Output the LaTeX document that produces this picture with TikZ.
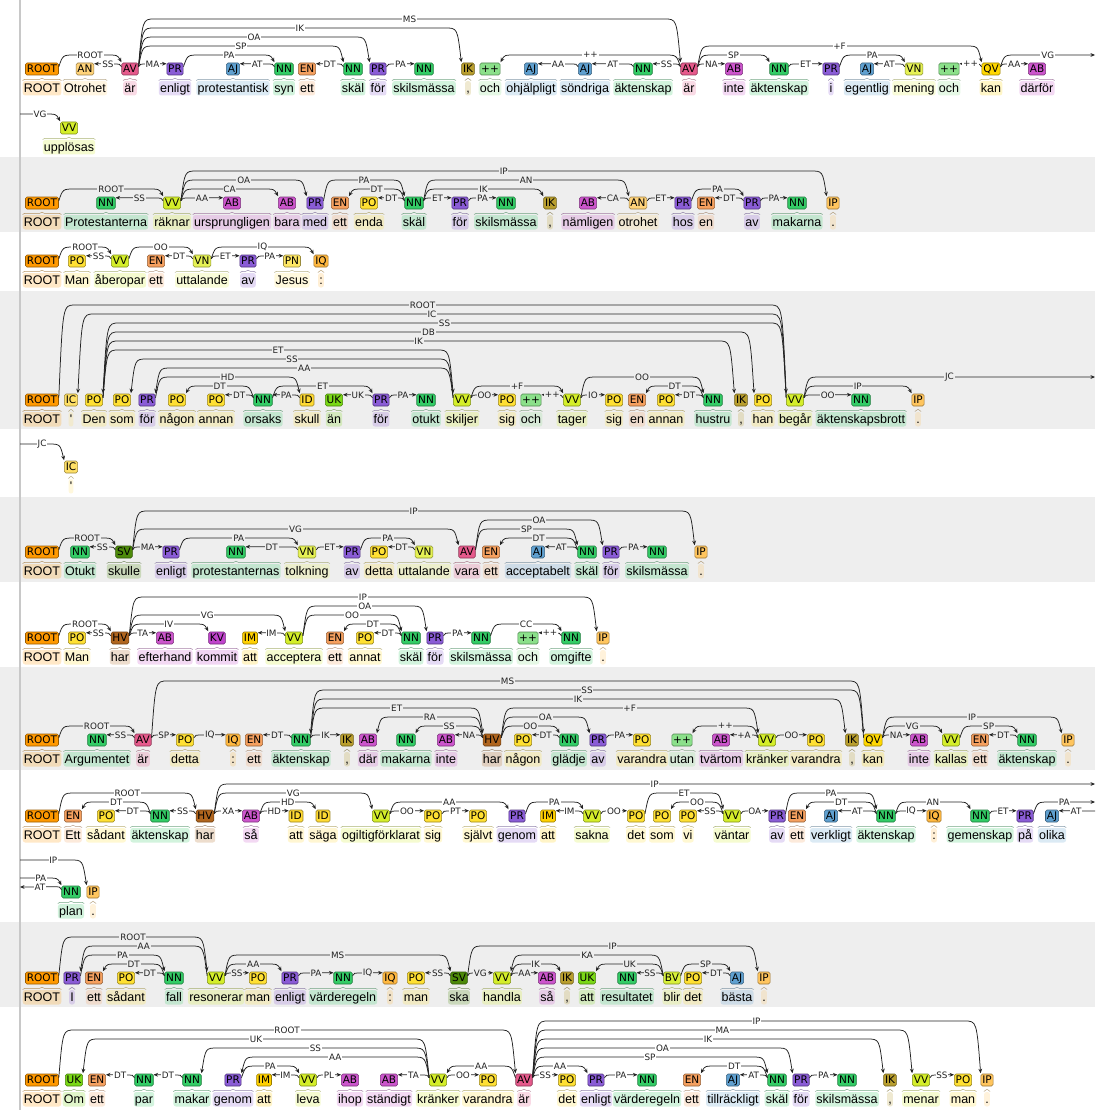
\documentclass[tikz,border=0pt]{standalone}
\usepackage{fontspec}
\setmainfont{Liberation Sans}
\newfontfamily\tagfont{DejaVu Sans}
\newfontfamily\wordfont{Liberation Sans}
\usetikzlibrary{arrows.meta,decorations.pathreplacing,calc}
\definecolor{bandgray}{HTML}{EEEEEE}
\definecolor{marginc}{HTML}{C8C8C8}
\definecolor{arcc}{HTML}{222222}
\definecolor{labc}{HTML}{222222}
\definecolor{cROOT}{HTML}{FF9900}
\definecolor{cAN}{HTML}{FFD37A}
\definecolor{cAV}{HTML}{E65A8C}
\definecolor{cPR}{HTML}{8A5CD6}
\definecolor{cAJ}{HTML}{5FA0D0}
\definecolor{cNN}{HTML}{33CC66}
\definecolor{cEN}{HTML}{F5A05F}
\definecolor{cIK}{HTML}{B89E2E}
\definecolor{cPP}{HTML}{8BE08A}
\definecolor{cVN}{HTML}{E6F255}
\definecolor{cQV}{HTML}{FFD700}
\definecolor{cAB}{HTML}{CC55CC}
\definecolor{cVV}{HTML}{D4EE2A}
\definecolor{cPO}{HTML}{FFE033}
\definecolor{cIP}{HTML}{FFC55E}
\definecolor{cPN}{HTML}{FFE866}
\definecolor{cIQ}{HTML}{FFB840}
\definecolor{cIC}{HTML}{FFE066}
\definecolor{cID}{HTML}{FFDA33}
\definecolor{cUK}{HTML}{7AD816}
\definecolor{cSV}{HTML}{4D8A0A}
\definecolor{cHV}{HTML}{B0651E}
\definecolor{cKV}{HTML}{C044CC}
\definecolor{cIM}{HTML}{FFD000}
\definecolor{cBV}{HTML}{D8F03A}
\def\labbg{white}
\tikzset{
  tagbox/.style={rectangle,rounded corners=1.6pt,line width=0.55pt,inner xsep=1.4pt,inner ysep=0pt,
    minimum height=12pt,text height=7.7pt,text depth=0pt,font=\tagfont\fontsize{10.5}{12}\selectfont},
  wordbox/.style={rectangle,rounded corners=2.5pt,inner xsep=1.2pt,inner ysep=1pt,text height=10.5pt,
    text depth=2pt,anchor=base,fill opacity=0.22,text opacity=1,font=\wordfont\fontsize{12.5}{14}\selectfont},
  wbrace/.style={decorate,decoration={brace,amplitude=2.3pt,raise=0.3pt},line width=0.5pt,draw opacity=0.6},
  deparc/.style={draw=arcc,line width=0.75pt,-{Stealth[length=4.5pt,width=3.8pt]}},
  deplab/.style={fill=\labbg,inner xsep=0.8pt,inner ysep=0.2pt,text=labc,font=\tagfont\fontsize{8.8}{9}\selectfont},
}
\newcommand\tok[6]{%
  \node[wordbox,fill=#5] (#1w) at (#2,-#3-29.5) {#6};%
  \draw[wbrace,draw=#5!55!black] (#1w.north west) -- (#1w.north east);%
  \node[tagbox,fill=#5,draw=#5!60!black] (#1) at (#2,-#3-6) {#4};%
}
\newcommand\dep[5]{%
  \pgfpointanchor{#1}{center}\pgfgetlastxy{\depsx}{\depsy}%
  \pgfpointanchor{#2}{center}\pgfgetlastxy{\deptx}{\depty}%
  \ifdim\depsx<\deptx\relax
    \pgfpointanchor{#1}{north east}\pgfgetlastxy{\depax}{\depay}%
    \pgfpointanchor{#2}{north west}\pgfgetlastxy{\depbx}{\depby}%
    \def\depsg{1}\def\depsa{east}\def\depta{west}%
  \else
    \pgfpointanchor{#1}{north west}\pgfgetlastxy{\depax}{\depay}%
    \pgfpointanchor{#2}{north east}\pgfgetlastxy{\depbx}{\depby}%
    \def\depsg{-1}\def\depsa{west}\def\depta{east}%
  \fi
  \pgfmathsetmacro\dA{\depax}%
  \pgfmathsetmacro\dB{\depbx}%
  \pgfmathsetmacro\dY{-(#3+1-9*#4)}%
  \pgfmathsetmacro\dM{(\dA+\dB)/2}%
  \pgfmathsetmacro\dAi{\dA+\depsg*4}%
  \pgfmathsetmacro\dAo{\dA+\depsg*16}%
  \pgfmathsetmacro\dBi{\dB-\depsg*4}%
  \pgfmathsetmacro\dBo{\dB-\depsg*16}%
  \pgfmathsetmacro\dAz{\dA+\depsg*2}%
  \pgfmathsetmacro\dAy{\dA+\depsg*5}%
  \ifnum#4=0
    \draw[deparc] ([yshift=-4pt]#1.north \depsa) .. controls (\dAz,\dY) .. (\dAy,\dY) -- ([yshift=-1pt]#2.north \depta);
  \else
    \draw[deparc] ([yshift=-4pt]#1.north \depsa) .. controls (\dAi,\dY) .. (\dAo,\dY) -- (\dBo,\dY) .. controls (\dBi,\dY) .. ([yshift=0.5pt]#2.north \depta);
  \fi
  \node[deplab] at (\dM,\dY) {#5};%
}
\newcommand\depout[5]{%
  \pgfpointanchor{#1}{north east}\pgfgetlastxy{\depax}{\depay}%
  \pgfmathsetmacro\dA{\depax}%
  \pgfmathsetmacro\dY{-(#3+1-9*#4)}%
  \pgfmathsetmacro\dM{(\dA+1095)/2}%
  \pgfmathsetmacro\dAi{\dA+4}\pgfmathsetmacro\dAo{\dA+16}%
  \coordinate (#2) at (1095,\dY);
  \draw[deparc] ([yshift=-4pt]#1.north east) .. controls (\dAi,\dY) .. (\dAo,\dY) -- (#2);
  \node[deplab] at (\dM,\dY) {#5};%
}
\newcommand\depin[5]{%
  \pgfpointanchor{#2}{north west}\pgfgetlastxy{\depbx}{\depby}%
  \pgfmathsetmacro\dB{\depbx}%
  \pgfmathsetmacro\dY{-(#3+1-9*#4)}%
  \pgfmathsetmacro\dM{(\dB+20)/2}%
  \pgfmathsetmacro\dBi{\dB-4}\pgfmathsetmacro\dBo{\dB-16}%
  \coordinate (#1) at (20,\dY);
  \draw[deparc] (#1) -- (\dBo,\dY) .. controls (\dBi,\dY) .. ([yshift=0.5pt]#2.north west);
  \node[deplab] at (\dM,\dY) {#5};%
}
\begin{document}
\begin{tikzpicture}[x=1pt,y=1pt]
\useasboundingbox (0,0) rectangle (1095,-1110);
\fill[white] (0,0) rectangle (1095,-1110);
\fill[bandgray] (0,-157) rectangle (1095,-232);
\fill[bandgray] (0,-291) rectangle (1095,-429);
\fill[bandgray] (0,-497) rectangle (1095,-582);
\fill[bandgray] (0,-667) rectangle (1095,-770);
\fill[bandgray] (0,-922) rectangle (1095,-1007);
\draw[marginc,line width=1.8pt] (20,0) -- (20,-1110);

%%%%% Sentence 1
\def\labbg{white}
\tok{a0}{42}{63}{ROOT}{cROOT}{ROOT}
\tok{a1}{85}{63}{AN}{cAN}{Otrohet}
\tok{a2}{130}{63}{AV}{cAV}{är}
\tok{a3}{175}{63}{PR}{cPR}{enligt}
\tok{a4}{233}{63}{AJ}{cAJ}{protestantisk}
\tok{a5}{284}{63}{NN}{cNN}{syn}
\tok{a6}{307}{63}{EN}{cEN}{ett}
\tok{a7}{353}{63}{NN}{cNN}{skäl}
\tok{a8}{378}{63}{PR}{cPR}{för}
\tok{a9}{424}{63}{NN}{cNN}{skilsmässa}
\tok{a10}{468}{63}{IK}{cIK}{,}
\tok{a11}{490}{63}{++}{cPP}{och}
\tok{a12}{531}{63}{AJ}{cAJ}{ohjälpligt}
\tok{a13}{585}{63}{AJ}{cAJ}{söndriga}
\tok{a14}{643}{63}{NN}{cNN}{äktenskap}
\tok{a15}{689}{63}{AV}{cAV}{är}
\tok{a16}{734}{63}{AB}{cAB}{inte}
\tok{a17}{779}{63}{NN}{cNN}{äktenskap}
\tok{a18}{831}{63}{PR}{cPR}{i}
\tok{a19}{867}{63}{AJ}{cAJ}{egentlig}
\tok{a20}{914}{63}{VN}{cVN}{mening}
\tok{a21}{949}{63}{++}{cPP}{och}
\tok{a22}{991}{63}{QV}{cQV}{kan}
\tok{a23}{1037}{63}{AB}{cAB}{därför}
\tok{a24}{69}{122}{VV}{cVV}{upplösas}
\dep{a0}{a2}{63}{1}{ROOT}
\dep{a2}{a1}{63}{0}{SS}
\dep{a2}{a3}{63}{0}{MA}
\dep{a3}{a5}{63}{1}{PA}
\dep{a5}{a4}{63}{0}{AT}
\dep{a7}{a6}{63}{0}{DT}
\dep{a2}{a7}{63}{2}{SP}
\dep{a2}{a8}{63}{3}{OA}
\dep{a2}{a10}{63}{4}{IK}
\dep{a2}{a15}{63}{5}{MS}
\dep{a8}{a9}{63}{0}{PA}
\dep{a15}{a11}{63}{1}{++}
\dep{a13}{a12}{63}{0}{AA}
\dep{a14}{a13}{63}{0}{AT}
\dep{a15}{a14}{63}{0}{SS}
\dep{a15}{a16}{63}{0}{NA}
\dep{a15}{a17}{63}{1}{SP}
\dep{a15}{a22}{63}{2}{+F}
\dep{a17}{a18}{63}{0}{ET}
\dep{a18}{a20}{63}{1}{PA}
\dep{a20}{a19}{63}{0}{AT}
\dep{a22}{a21}{63}{0}{++}
\dep{a22}{a23}{63}{0}{AA}
\depout{a22}{aVGr}{63}{1}{VG}
\depin{aVGl}{a24}{122}{1}{VG}

%%%%% Sentence 2
\def\labbg{bandgray}
\tok{b0}{42}{197}{ROOT}{cROOT}{ROOT}
\tok{b1}{106}{197}{NN}{cNN}{Protestanterna}
\tok{b2}{172}{197}{VV}{cVV}{räknar}
\tok{b3}{232}{197}{AB}{cAB}{ursprungligen}
\tok{b4}{287}{197}{AB}{cAB}{bara}
\tok{b5}{315}{197}{PR}{cPR}{med}
\tok{b6}{340}{197}{EN}{cEN}{ett}
\tok{b7}{369}{197}{PO}{cPO}{enda}
\tok{b8}{414}{197}{NN}{cNN}{skäl}
\tok{b9}{460}{197}{PR}{cPR}{för}
\tok{b10}{506}{197}{NN}{cNN}{skilsmässa}
\tok{b11}{550}{197}{IK}{cIK}{,}
\tok{b12}{588}{197}{AB}{cAB}{nämligen}
\tok{b13}{638}{197}{AN}{cAN}{otrohet}
\tok{b14}{683}{197}{PR}{cPR}{hos}
\tok{b15}{706}{197}{EN}{cEN}{en}
\tok{b16}{752}{197}{PR}{cPR}{av}
\tok{b17}{797}{197}{NN}{cNN}{makarna}
\tok{b18}{833}{197}{IP}{cIP}{.}
\dep{b0}{b2}{197}{1}{ROOT}
\dep{b2}{b1}{197}{0}{SS}
\dep{b2}{b3}{197}{0}{AA}
\dep{b2}{b4}{197}{1}{CA}
\dep{b2}{b5}{197}{2}{OA}
\dep{b2}{b18}{197}{3}{IP}
\dep{b5}{b8}{197}{2}{PA}
\dep{b8}{b6}{197}{1}{DT}
\dep{b8}{b7}{197}{0}{DT}
\dep{b8}{b9}{197}{0}{ET}
\dep{b9}{b10}{197}{0}{PA}
\dep{b8}{b11}{197}{1}{IK}
\dep{b8}{b13}{197}{2}{AN}
\dep{b13}{b12}{197}{0}{CA}
\dep{b13}{b14}{197}{0}{ET}
\dep{b14}{b16}{197}{1}{PA}
\dep{b16}{b15}{197}{0}{DT}
\dep{b16}{b17}{197}{0}{PA}

%%%%% Sentence 3
\def\labbg{white}
\tok{c0}{42}{255}{ROOT}{cROOT}{ROOT}
\tok{c1}{77}{255}{PO}{cPO}{Man}
\tok{c2}{120}{255}{VV}{cVV}{åberopar}
\tok{c3}{156}{255}{EN}{cEN}{ett}
\tok{c4}{202}{255}{VN}{cVN}{uttalande}
\tok{c5}{248}{255}{PR}{cPR}{av}
\tok{c6}{292}{255}{PN}{cPN}{Jesus}
\tok{c7}{321}{255}{IQ}{cIQ}{:}
\dep{c0}{c2}{255}{1}{ROOT}
\dep{c2}{c1}{255}{0}{SS}
\dep{c2}{c4}{255}{1}{OO}
\dep{c4}{c3}{255}{0}{DT}
\dep{c4}{c5}{255}{0}{ET}
\dep{c5}{c6}{255}{0}{PA}
\dep{c4}{c7}{255}{1}{IQ}

%%%%% Sentence 4
\def\labbg{bandgray}
\tok{d0}{42}{394}{ROOT}{cROOT}{ROOT}
\tok{d1}{71}{394}{IC}{cIC}{\symbol{39}}
\tok{d2}{94}{394}{PO}{cPO}{Den}
\tok{d3}{122}{394}{PO}{cPO}{som}
\tok{d4}{147}{394}{PR}{cPR}{för}
\tok{d5}{177}{394}{PO}{cPO}{någon}
\tok{d6}{216}{394}{PO}{cPO}{annan}
\tok{d7}{263}{394}{NN}{cNN}{orsaks}
\tok{d8}{307}{394}{ID}{cID}{skull}
\tok{d9}{334}{394}{UK}{cUK}{än}
\tok{d10}{381}{394}{PR}{cPR}{för}
\tok{d11}{426}{394}{NN}{cNN}{otukt}
\tok{d12}{462}{394}{VV}{cVV}{skiljer}
\tok{d13}{507}{394}{PO}{cPO}{sig}
\tok{d14}{531}{394}{++}{cPP}{och}
\tok{d15}{572}{394}{VV}{cVV}{tager}
\tok{d16}{614}{394}{PO}{cPO}{sig}
\tok{d17}{637}{394}{EN}{cEN}{en}
\tok{d18}{666}{394}{PO}{cPO}{annan}
\tok{d19}{713}{394}{NN}{cNN}{hustru}
\tok{d20}{741}{394}{IK}{cIK}{,}
\tok{d21}{763}{394}{PO}{cPO}{han}
\tok{d22}{795}{394}{VV}{cVV}{begår}
\tok{d23}{861}{394}{NN}{cNN}{äktenskapsbrott}
\tok{d24}{918}{394}{IP}{cIP}{.}
\dep{d0}{d22}{394}{10}{ROOT}
\dep{d22}{d1}{394}{9}{IC}
\dep{d22}{d2}{394}{8}{SS}
\dep{d2}{d21}{394}{7}{DB}
\dep{d2}{d20}{394}{6}{IK}
\dep{d2}{d12}{394}{5}{ET}
\dep{d12}{d3}{394}{4}{SS}
\dep{d12}{d4}{394}{3}{AA}
\dep{d4}{d8}{394}{2}{HD}
\dep{d7}{d5}{394}{1}{DT}
\dep{d7}{d6}{394}{0}{DT}
\dep{d8}{d7}{394}{0}{PA}
\dep{d7}{d10}{394}{1}{ET}
\dep{d10}{d9}{394}{0}{UK}
\dep{d10}{d11}{394}{0}{PA}
\dep{d12}{d13}{394}{0}{OO}
\dep{d12}{d15}{394}{1}{+F}
\dep{d15}{d14}{394}{0}{++}
\dep{d15}{d16}{394}{0}{IO}
\dep{d15}{d19}{394}{2}{OO}
\dep{d19}{d17}{394}{1}{DT}
\dep{d19}{d18}{394}{0}{DT}
\dep{d22}{d23}{394}{0}{OO}
\dep{d22}{d24}{394}{1}{IP}
\depout{d22}{dJCr}{394}{2}{JC}
\def\labbg{white}
\tok{d25}{71}{461}{IC}{cIC}{\symbol{39}}
\depin{dJCl}{d25}{461}{2}{JC}

%%%%% Sentence 5
\def\labbg{bandgray}
\tok{e0}{42}{546}{ROOT}{cROOT}{ROOT}
\tok{e1}{80}{546}{NN}{cNN}{Otukt}
\tok{e2}{124}{546}{SV}{cSV}{skulle}
\tok{e3}{171}{546}{PR}{cPR}{enligt}
\tok{e4}{236}{546}{NN}{cNN}{protestanternas}
\tok{e5}{307}{546}{VN}{cVN}{tolkning}
\tok{e6}{352}{546}{PR}{cPR}{av}
\tok{e7}{379}{546}{PO}{cPO}{detta}
\tok{e8}{424}{546}{VN}{cVN}{uttalande}
\tok{e9}{467}{546}{AV}{cAV}{vara}
\tok{e10}{491}{546}{EN}{cEN}{ett}
\tok{e11}{538}{546}{AJ}{cAJ}{acceptabelt}
\tok{e12}{587}{546}{NN}{cNN}{skäl}
\tok{e13}{611}{546}{PR}{cPR}{för}
\tok{e14}{657}{546}{NN}{cNN}{skilsmässa}
\tok{e15}{701}{546}{IP}{cIP}{.}
\dep{e0}{e2}{546}{1}{ROOT}
\dep{e2}{e1}{546}{0}{SS}
\dep{e2}{e3}{546}{0}{MA}
\dep{e3}{e5}{546}{1}{PA}
\dep{e5}{e4}{546}{0}{DT}
\dep{e5}{e6}{546}{0}{ET}
\dep{e6}{e8}{546}{1}{PA}
\dep{e8}{e7}{546}{0}{DT}
\dep{e2}{e9}{546}{2}{VG}
\dep{e2}{e15}{546}{4}{IP}
\dep{e9}{e13}{546}{3}{OA}
\dep{e9}{e12}{546}{2}{SP}
\dep{e12}{e10}{546}{1}{DT}
\dep{e12}{e11}{546}{0}{AT}
\dep{e13}{e14}{546}{0}{PA}

%%%%% Sentence 6
\def\labbg{white}
\tok{f0}{42}{632}{ROOT}{cROOT}{ROOT}
\tok{f1}{77}{632}{PO}{cPO}{Man}
\tok{f2}{120}{632}{HV}{cHV}{har}
\tok{f3}{165}{632}{AB}{cAB}{efterhand}
\tok{f4}{217}{632}{KV}{cKV}{kommit}
\tok{f5}{250}{632}{IM}{cIM}{att}
\tok{f6}{294}{632}{VV}{cVV}{acceptera}
\tok{f7}{335}{632}{EN}{cEN}{ett}
\tok{f8}{365}{632}{PO}{cPO}{annat}
\tok{f9}{411}{632}{NN}{cNN}{skäl}
\tok{f10}{435}{632}{PR}{cPR}{för}
\tok{f11}{481}{632}{NN}{cNN}{skilsmässa}
\tok{f12}{528}{632}{++}{cPP}{och}
\tok{f13}{571}{632}{NN}{cNN}{omgifte}
\tok{f14}{603}{632}{IP}{cIP}{.}
\dep{f0}{f2}{632}{1}{ROOT}
\dep{f2}{f1}{632}{0}{SS}
\dep{f2}{f3}{632}{0}{TA}
\dep{f2}{f4}{632}{1}{IV}
\dep{f2}{f6}{632}{2}{VG}
\dep{f6}{f5}{632}{0}{IM}
\dep{f2}{f14}{632}{4}{IP}
\dep{f6}{f10}{632}{3}{OA}
\dep{f6}{f9}{632}{2}{OO}
\dep{f9}{f7}{632}{1}{DT}
\dep{f9}{f8}{632}{0}{DT}
\dep{f10}{f11}{632}{0}{PA}
\dep{f11}{f13}{632}{1}{CC}
\dep{f13}{f12}{632}{0}{++}

%%%%% Sentence 7
\def\labbg{bandgray}
\tok{g0}{42}{734}{ROOT}{cROOT}{ROOT}
\tok{g1}{97}{734}{NN}{cNN}{Argumentet}
\tok{g2}{143}{734}{AV}{cAV}{är}
\tok{g3}{185}{734}{PO}{cPO}{detta}
\tok{g4}{233}{734}{IQ}{cIQ}{:}
\tok{g5}{254}{734}{EN}{cEN}{ett}
\tok{g6}{301}{734}{NN}{cNN}{äktenskap}
\tok{g7}{347}{734}{IK}{cIK}{,}
\tok{g8}{368}{734}{AB}{cAB}{där}
\tok{g9}{406}{734}{NN}{cNN}{makarna}
\tok{g10}{446}{734}{AB}{cAB}{inte}
\tok{g11}{492}{734}{HV}{cHV}{har}
\tok{g12}{523}{734}{PO}{cPO}{någon}
\tok{g13}{569}{734}{NN}{cNN}{glädje}
\tok{g14}{598}{734}{PR}{cPR}{av}
\tok{g15}{642}{734}{PO}{cPO}{varandra}
\tok{g16}{682}{734}{++}{cPP}{utan}
\tok{g17}{721}{734}{AB}{cAB}{tvärtom}
\tok{g18}{767}{734}{VV}{cVV}{kränker}
\tok{g19}{816}{734}{PO}{cPO}{varandra}
\tok{g20}{852}{734}{IK}{cIK}{,}
\tok{g21}{873}{734}{QV}{cQV}{kan}
\tok{g22}{919}{734}{AB}{cAB}{inte}
\tok{g23}{951}{734}{VV}{cVV}{kallas}
\tok{g24}{980}{734}{EN}{cEN}{ett}
\tok{g25}{1027}{734}{NN}{cNN}{äktenskap}
\tok{g26}{1068}{734}{IP}{cIP}{.}
\dep{g0}{g2}{734}{1}{ROOT}
\dep{g2}{g1}{734}{0}{SS}
\dep{g2}{g3}{734}{0}{SP}
\dep{g3}{g4}{734}{0}{IQ}
\dep{g6}{g5}{734}{0}{DT}
\dep{g6}{g7}{734}{0}{IK}
\dep{g2}{g21}{734}{6}{MS}
\dep{g21}{g6}{734}{5}{SS}
\dep{g6}{g20}{734}{4}{IK}
\dep{g6}{g11}{734}{3}{ET}
\dep{g11}{g8}{734}{2}{RA}
\dep{g11}{g9}{734}{1}{SS}
\dep{g11}{g10}{734}{0}{NA}
\dep{g11}{g18}{734}{3}{+F}
\dep{g11}{g14}{734}{2}{OA}
\dep{g11}{g13}{734}{1}{OO}
\dep{g13}{g12}{734}{0}{DT}
\dep{g14}{g15}{734}{0}{PA}
\dep{g18}{g16}{734}{1}{++}
\dep{g18}{g17}{734}{0}{+A}
\dep{g18}{g19}{734}{0}{OO}
\dep{g21}{g22}{734}{0}{NA}
\dep{g21}{g23}{734}{1}{VG}
\dep{g23}{g25}{734}{1}{SP}
\dep{g25}{g24}{734}{0}{DT}
\dep{g21}{g26}{734}{2}{IP}

%%%%% Sentence 8
\def\labbg{white}
\tok{h0}{42}{810}{ROOT}{cROOT}{ROOT}
\tok{h1}{73}{810}{EN}{cEN}{Ett}
\tok{h2}{106}{810}{PO}{cPO}{sådant}
\tok{h3}{160}{810}{NN}{cNN}{äktenskap}
\tok{h4}{205}{810}{HV}{cHV}{har}
\tok{h5}{251}{810}{AB}{cAB}{så}
\tok{h6}{296}{810}{ID}{cID}{att}
\tok{h7}{323}{810}{ID}{cID}{säga}
\tok{h8}{381}{810}{VV}{cVV}{ogiltigförklarat}
\tok{h9}{433}{810}{PO}{cPO}{sig}
\tok{h10}{478}{810}{PO}{cPO}{självt}
\tok{h11}{517}{810}{PR}{cPR}{genom}
\tok{h12}{548}{810}{IM}{cIM}{att}
\tok{h13}{592}{810}{VV}{cVV}{sakna}
\tok{h14}{636}{810}{PO}{cPO}{det}
\tok{h15}{662}{810}{PO}{cPO}{som}
\tok{h16}{688}{810}{PO}{cPO}{vi}
\tok{h17}{732}{810}{VV}{cVV}{väntar}
\tok{h18}{777}{810}{PR}{cPR}{av}
\tok{h19}{797}{810}{EN}{cEN}{ett}
\tok{h20}{831}{810}{AJ}{cAJ}{verkligt}
\tok{h21}{886}{810}{NN}{cNN}{äktenskap}
\tok{h22}{934}{810}{IQ}{cIQ}{:}
\tok{h23}{980}{810}{NN}{cNN}{gemenskap}
\tok{h24}{1025}{810}{PR}{cPR}{på}
\tok{h25}{1052}{810}{AJ}{cAJ}{olika}
\tok{h26}{71}{886}{NN}{cNN}{plan}
\tok{h27}{93}{886}{IP}{cIP}{.}
\dep{h0}{h4}{810}{2}{ROOT}
\dep{h3}{h1}{810}{1}{DT}
\dep{h3}{h2}{810}{0}{DT}
\dep{h4}{h3}{810}{0}{SS}
\dep{h4}{h5}{810}{0}{XA}
\dep{h5}{h7}{810}{1}{HD}
\dep{h5}{h6}{810}{0}{HD}
\dep{h4}{h8}{810}{2}{VG}
\dep{h8}{h9}{810}{0}{OO}
\dep{h9}{h10}{810}{0}{PT}
\dep{h8}{h11}{810}{1}{AA}
\dep{h11}{h13}{810}{1}{PA}
\dep{h13}{h12}{810}{0}{IM}
\dep{h13}{h14}{810}{0}{OO}
\dep{h14}{h17}{810}{2}{ET}
\dep{h17}{h15}{810}{1}{OO}
\dep{h17}{h16}{810}{0}{SS}
\dep{h17}{h18}{810}{0}{OA}
\dep{h18}{h21}{810}{2}{PA}
\dep{h21}{h19}{810}{1}{DT}
\dep{h21}{h20}{810}{0}{AT}
\dep{h21}{h22}{810}{0}{IQ}
\dep{h21}{h23}{810}{1}{AN}
\dep{h23}{h24}{810}{0}{ET}
\depout{h4}{hIPr}{810}{3}{IP}
\depout{h24}{hPAr}{810}{1}{PA}
\coordinate (hATr) at (1095,-811);
\draw[deparc] (hATr) -- ([yshift=-1pt]h25.north east);
\node[deplab] at (1076,-811) {AT};
\depin{hIPl}{h27}{886}{3}{IP}
\depin{hPAl}{h26}{886}{1}{PA}
\coordinate (hATl) at (20,-887);
\draw[deparc] ([yshift=-4pt]h26.north west) .. controls ([xshift=-2pt,yshift=-1pt]h26.north west) .. ([xshift=-5pt,yshift=-1pt]h26.north west) -- (hATl);
\node[deplab] at (40,-887) {AT};

%%%%% Sentence 9
\def\labbg{bandgray}
\tok{i0}{42}{972}{ROOT}{cROOT}{ROOT}
\tok{i1}{72}{972}{PR}{cPR}{I}
\tok{i2}{94}{972}{EN}{cEN}{ett}
\tok{i3}{126}{972}{PO}{cPO}{sådant}
\tok{i4}{174}{972}{NN}{cNN}{fall}
\tok{i5}{216}{972}{VV}{cVV}{resonerar}
\tok{i6}{258}{972}{PO}{cPO}{man}
\tok{i7}{290}{972}{PR}{cPR}{enligt}
\tok{i8}{343}{972}{NN}{cNN}{värderegeln}
\tok{i9}{390}{972}{IQ}{cIQ}{:}
\tok{i10}{416}{972}{PO}{cPO}{man}
\tok{i11}{459}{972}{SV}{cSV}{ska}
\tok{i12}{502}{972}{VV}{cVV}{handla}
\tok{i13}{547}{972}{AB}{cAB}{så}
\tok{i14}{567}{972}{IK}{cIK}{,}
\tok{i15}{587}{972}{UK}{cUK}{att}
\tok{i16}{627}{972}{NN}{cNN}{resultatet}
\tok{i17}{672}{972}{BV}{cBV}{blir}
\tok{i18}{693}{972}{PO}{cPO}{det}
\tok{i19}{737}{972}{AJ}{cAJ}{bästa}
\tok{i20}{764}{972}{IP}{cIP}{.}
\dep{i0}{i5}{972}{4}{ROOT}
\dep{i5}{i1}{972}{3}{AA}
\dep{i1}{i4}{972}{2}{PA}
\dep{i4}{i2}{972}{1}{DT}
\dep{i4}{i3}{972}{0}{DT}
\dep{i5}{i6}{972}{0}{SS}
\dep{i5}{i7}{972}{1}{AA}
\dep{i7}{i8}{972}{0}{PA}
\dep{i8}{i9}{972}{0}{IQ}
\dep{i5}{i11}{972}{2}{MS}
\dep{i11}{i10}{972}{0}{SS}
\dep{i11}{i12}{972}{0}{VG}
\dep{i12}{i13}{972}{0}{AA}
\dep{i12}{i14}{972}{1}{IK}
\dep{i17}{i12}{972}{2}{KA}
\dep{i11}{i20}{972}{3}{IP}
\dep{i17}{i15}{972}{1}{UK}
\dep{i17}{i16}{972}{0}{SS}
\dep{i17}{i19}{972}{1}{SP}
\dep{i19}{i18}{972}{0}{DT}

%%%%% Sentence 10
\def\labbg{white}
\tok{j0}{42}{1074}{ROOT}{cROOT}{ROOT}
\tok{j1}{74}{1074}{UK}{cUK}{Om}
\tok{j2}{97}{1074}{EN}{cEN}{ett}
\tok{j3}{144}{1074}{NN}{cNN}{par}
\tok{j4}{192}{1074}{NN}{cNN}{makar}
\tok{j5}{233}{1074}{PR}{cPR}{genom}
\tok{j6}{264}{1074}{IM}{cIM}{att}
\tok{j7}{308}{1074}{VV}{cVV}{leva}
\tok{j8}{350}{1074}{AB}{cAB}{ihop}
\tok{j9}{389}{1074}{AB}{cAB}{ständigt}
\tok{j10}{438}{1074}{VV}{cVV}{kränker}
\tok{j11}{488}{1074}{PO}{cPO}{varandra}
\tok{j12}{524}{1074}{AV}{cAV}{är}
\tok{j13}{567}{1074}{PO}{cPO}{det}
\tok{j14}{596}{1074}{PR}{cPR}{enligt}
\tok{j15}{647}{1074}{NN}{cNN}{värderegeln}
\tok{j16}{692}{1074}{EN}{cEN}{ett}
\tok{j17}{733}{1074}{AJ}{cAJ}{tillräckligt}
\tok{j18}{777}{1074}{NN}{cNN}{skäl}
\tok{j19}{801}{1074}{PR}{cPR}{för}
\tok{j20}{847}{1074}{NN}{cNN}{skilsmässa}
\tok{j21}{890}{1074}{IK}{cIK}{,}
\tok{j22}{921}{1074}{VV}{cVV}{menar}
\tok{j23}{963}{1074}{PO}{cPO}{man}
\tok{j24}{987}{1074}{IP}{cIP}{.}
\dep{j0}{j12}{1074}{5}{ROOT}
\dep{j10}{j1}{1074}{4}{UK}
\dep{j10}{j4}{1074}{3}{SS}
\dep{j4}{j3}{1074}{0}{DT}
\dep{j3}{j2}{1074}{0}{DT}
\dep{j10}{j5}{1074}{2}{AA}
\dep{j5}{j7}{1074}{1}{PA}
\dep{j7}{j6}{1074}{0}{IM}
\dep{j7}{j8}{1074}{0}{PL}
\dep{j10}{j9}{1074}{0}{TA}
\dep{j10}{j11}{1074}{0}{OO}
\dep{j12}{j10}{1074}{1}{AA}
\dep{j12}{j13}{1074}{0}{SS}
\dep{j12}{j14}{1074}{1}{AA}
\dep{j14}{j15}{1074}{0}{PA}
\dep{j12}{j18}{1074}{2}{SP}
\dep{j18}{j16}{1074}{1}{DT}
\dep{j18}{j17}{1074}{0}{AT}
\dep{j12}{j19}{1074}{3}{OA}
\dep{j19}{j20}{1074}{0}{PA}
\dep{j12}{j21}{1074}{4}{IK}
\dep{j12}{j22}{1074}{5}{MA}
\dep{j22}{j23}{1074}{0}{SS}
\dep{j12}{j24}{1074}{6}{IP}
\end{tikzpicture}
\end{document}
